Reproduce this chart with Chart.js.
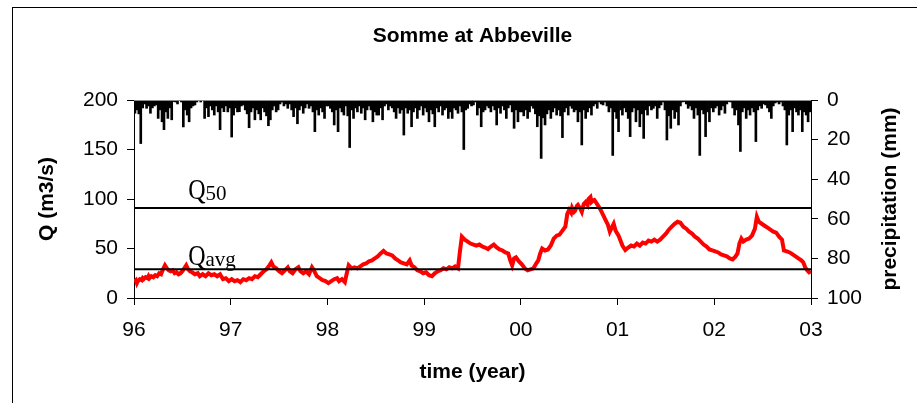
<!DOCTYPE html>
<html>
<head>
<meta charset="utf-8">
<script src="https://cdn.jsdelivr.net/npm/chart.js@4.4.1/dist/chart.umd.min.js"></script>
<style>
  html, body { margin: 0; padding: 0; background: #fff; }
  #wrap { position: relative; width: 917px; height: 403px; overflow: hidden; }
  #frame { position: absolute; left: 12px; top: 7px; width: 1000px; height: 500px; border: 1px solid #000; }
  canvas { position: absolute; left: 0; top: 0; }
</style>
</head>
<body>
<div id="wrap">
  <div id="frame"></div>
  <canvas id="chart" width="917" height="403"></canvas>
</div>
<script>
// discharge (decimal year, 96 = 1996)
let flowYears = [
  96.00, 96.02, 96.03, 96.04, 96.06, 96.08, 96.09, 96.10, 96.12, 96.14, 96.15, 96.16, 96.18, 96.20, 96.22, 96.24, 96.26, 96.28, 96.30, 96.32, 96.34, 96.36, 96.38, 96.40, 96.42, 96.44, 96.46, 96.48, 96.50, 96.52, 96.54, 96.56, 96.58, 96.60, 96.63, 96.66, 96.68, 96.71, 96.74, 96.77, 96.80, 96.83, 96.86, 96.89, 96.92, 96.95, 96.98,
  97.01, 97.04, 97.07, 97.10, 97.13, 97.16, 97.19, 97.22, 97.25, 97.28, 97.31, 97.34, 97.37, 97.40, 97.42, 97.44, 97.47, 97.50, 97.53, 97.56, 97.59, 97.61, 97.64, 97.67, 97.70, 97.72, 97.75, 97.78, 97.81, 97.84, 97.86, 97.89, 97.92, 97.95, 97.98,
  98.01, 98.04, 98.07, 98.10, 98.12, 98.15, 98.18, 98.20, 98.22, 98.25, 98.28, 98.31, 98.34, 98.37, 98.40, 98.43, 98.46, 98.49, 98.52, 98.55, 98.58, 98.61, 98.64, 98.67, 98.70, 98.73, 98.76, 98.79, 98.82, 98.85, 98.87, 98.90, 98.93, 98.96, 98.99,
  99.02, 99.05, 99.08, 99.11, 99.14, 99.17, 99.20, 99.23, 99.26, 99.29, 99.32, 99.35, 99.37, 99.39, 99.42, 99.45, 99.48, 99.51, 99.54, 99.57, 99.60, 99.63, 99.66, 99.69, 99.72, 99.75, 99.78, 99.81, 99.84, 99.87, 99.89, 99.91, 99.93, 99.95, 99.98,
  100.01, 100.04, 100.07, 100.10, 100.13, 100.16, 100.18, 100.20, 100.22, 100.25, 100.28, 100.31, 100.34, 100.37, 100.40, 100.43, 100.46, 100.48, 100.50, 100.52, 100.53, 100.55, 100.56, 100.58, 100.59, 100.61, 100.63, 100.65, 100.67, 100.69, 100.70, 100.72, 100.73, 100.74, 100.76, 100.78, 100.80, 100.82, 100.84, 100.86, 100.88, 100.90, 100.92, 100.94, 100.96, 100.98,
  101.01, 101.03, 101.05, 101.08, 101.11, 101.14, 101.17, 101.20, 101.23, 101.26, 101.29, 101.32, 101.35, 101.38, 101.41, 101.44, 101.47, 101.50, 101.53, 101.56, 101.59, 101.62, 101.65, 101.68, 101.71, 101.74, 101.77, 101.80, 101.83, 101.86, 101.89, 101.92, 101.95, 101.98,
  102.01, 102.04, 102.07, 102.10, 102.13, 102.16, 102.19, 102.22, 102.24, 102.26, 102.28, 102.30, 102.33, 102.36, 102.39, 102.42, 102.44, 102.46, 102.49, 102.52, 102.55, 102.58, 102.61, 102.64, 102.67, 102.70, 102.72, 102.75, 102.78, 102.81, 102.84, 102.87, 102.90, 102.92, 102.94, 102.96, 102.98, 103.00
];
let flowValues = [
  16, 18, 15, 17, 19, 18, 20, 19, 21, 20, 22, 20, 22, 21, 23, 22, 25, 24, 29, 33, 30, 28, 27, 28, 25, 26, 24, 25, 27, 30, 33, 29, 27, 26, 24, 25, 22, 24, 22, 25, 23, 24, 22, 24, 19, 20, 17,
  19, 17, 18, 16, 19, 18, 20, 19, 22, 21, 24, 27, 29, 33, 36, 32, 30, 27, 25, 28, 31, 27, 25, 29, 31, 27, 25, 27, 24, 31, 28, 22, 20, 18, 17,
  15, 17, 19, 20, 17, 19, 16, 25, 33, 30, 31, 30, 32, 34, 35, 37, 38, 40, 42, 45, 47.5, 45, 44, 43, 40, 38, 36, 35, 34, 38, 33, 31, 28, 27, 25,
  26, 23, 22, 25, 27, 28, 30, 29, 31, 30, 32, 30, 47, 62, 59, 57, 55, 54, 53, 54, 52, 51, 49.5, 52, 54, 51, 49, 48, 46, 45, 38, 33, 40, 41, 37,
  34, 30, 28, 29, 30, 35, 38, 45, 50, 48, 49, 53, 60, 63, 64, 68, 72, 85, 89, 86, 91, 87, 88, 93, 94, 91, 87, 95, 97, 94, 100, 102, 97, 98, 99, 96, 93, 90, 86, 82, 78, 74, 67, 71, 75, 68,
  63, 58, 53, 48.5, 51, 53, 52, 55, 53, 56, 55, 58, 57, 59, 57, 59, 62, 65, 69, 72, 75, 77, 76, 72, 70, 67, 65, 62, 60, 57, 54, 52, 49, 48,
  47, 46, 44, 43, 42, 40, 39, 42, 45, 55, 60, 57, 59, 60, 63, 70, 82, 77, 75, 73, 71, 69, 67, 66, 62, 59, 48, 47, 46, 44, 42, 40, 38, 36, 31, 28, 26, 27
];

let q50 = 91;
let qAvg = 29;

// precipitation (mm), one bar every 0.02 year from the start of 96
let rainStart = 96;
let rainStep = 0.02;
let rainValues = [
  6.7, 5, 7, 22, 4, 2, 4.2, 3, 6.7, 4, 3, 2.5, 9.3, 5, 11, 15, 6, 9.3, 4, 10, 0.8, 1, 2, 0, 1,
  13.6, 5, 7.6, 11, 4, 3, 2.5, 1, 0, 1, 0, 9.3, 4, 8.4, 3, 5, 7.6, 3, 6, 15, 4, 5.9, 3, 6, 4,
  18.7, 7.6, 4, 6, 5.9, 3, 2.5, 5, 7, 14, 6, 4, 10, 5, 7, 10, 4, 6, 8, 13, 10, 5, 3, 6, 5,
  2, 1, 3, 2, 4.2, 2, 5, 8.4, 4, 12, 5, 3, 6.7, 4, 2, 4.2, 3, 6, 16, 5, 7.6, 4, 6, 9.3, 3,
  3, 4.2, 6, 12.6, 5, 16, 4, 6, 7.6, 3, 8, 24, 5, 9.3, 4, 6, 3, 6.7, 4, 10, 5, 3, 5, 11, 6,
  7.6, 7.6, 4, 10, 3, 2, 5, 3, 4, 6, 9.3, 4, 6.7, 5, 17.7, 4, 6.7, 5, 13.5, 6, 4, 9.3, 5, 3, 7.6,
  4, 6, 11, 5, 7, 13.5, 4, 6, 3, 7.6, 5, 4, 9.3, 6, 9.3, 4, 5, 6.7, 3, 6, 25, 5, 4.2, 2, 3,
  2.5, 1, 7.6, 4, 13.5, 6, 5, 3, 4, 6, 3, 5, 12.6, 4, 6.7, 3, 5, 9.3, 4, 2.5, 6, 14.3, 5, 11, 6,
  6, 8, 5, 9.3, 6, 3, 4.2, 7, 13.5, 8, 29.5, 9, 12.6, 7, 5, 9.3, 6, 4, 7.6, 5, 8, 19, 6, 4, 7.6,
  3, 4.2, 6, 5, 11, 6, 22.7, 5, 9.3, 6, 4, 7.6, 3, 2, 4.2, 1, 2, 2.5, 1, 3, 6, 4, 28, 6, 9.3,
  16, 5, 7.6, 4, 6, 9.3, 18.5, 6, 4, 11, 5, 13.5, 7, 19.4, 5, 7.6, 3, 5, 4.2, 3, 9.3, 4, 2.5, 1, 5,
  20.2, 8, 14.3, 5, 9.3, 6, 12.6, 3, 1, 0.8, 2, 4.2, 3, 5, 9.3, 4, 7.6, 28, 5, 7, 18.5, 6, 11, 4, 6,
  4, 3, 7.6, 5, 3, 6.7, 2, 0.8, 1, 4, 7.6, 5, 12.6, 26, 6, 4, 9.3, 5, 7.6, 4, 6, 21, 5, 3, 4.2,
  2, 2.5, 4, 6, 9.3, 3, 1.5, 1, 2, 1, 3, 5, 22.7, 7.6, 5, 16, 4, 6, 7.6, 5, 16, 6, 7.6, 11, 6
];

let yearTicks = [96, 97, 98, 99, 100, 101, 102, 103];

let flowData = flowYears.map((x, i) => ({ x: x, y: flowValues[i] }));
let rainData = rainValues.map((v, i) => ({ x: rainStart + (i + 0.5) * rainStep, y: v }));

let font = '"Liberation Sans", Arial, sans-serif';
let serif = '"Liberation Serif", "Times New Roman", serif';

// Q50 / Qavg labels, title and right axis title
let extras = {
  id: 'extras',
  afterDraw(chart) {
    let ctx = chart.ctx;
    let a = chart.chartArea;
    let sx = chart.scales.x;
    let sy = chart.scales.y;
    ctx.save();

    ctx.strokeStyle = '#8c8c8c';
    ctx.lineWidth = 1;
    ctx.beginPath();
    ctx.moveTo(a.left, a.top + 0.5);
    ctx.lineTo(a.right, a.top + 0.5);
    ctx.stroke();

    ctx.fillStyle = '#000';
    ctx.font = 'bold 21px ' + font;
    ctx.textAlign = 'center';
    ctx.textBaseline = 'middle';
    ctx.fillText('Somme at Abbeville', (a.left + a.right) / 2, 36);

    ctx.save();
    ctx.translate(890, (a.top + a.bottom) / 2);
    ctx.rotate(-Math.PI / 2);
    ctx.fillText('precipitation (mm)', 0, 0);
    ctx.restore();

    function qLabel(value, sub, lift) {
      let x = sx.getPixelForValue(96.56);
      let y = sy.getPixelForValue(value) - lift;
      ctx.textAlign = 'left';
      ctx.textBaseline = 'alphabetic';
      ctx.save();
      ctx.translate(x, y);
      ctx.scale(0.8, 1);
      ctx.font = '30px ' + serif;
      ctx.fillText('Q', 0, 0);
      let w = ctx.measureText('Q').width * 0.8;
      ctx.restore();
      ctx.font = '21px ' + serif;
      ctx.fillText(sub, x + w, y + 1);
    }
    qLabel(q50, '50', 9);
    qLabel(qAvg, 'avg', 4);

    ctx.restore();
  }
};

let ctx = document.getElementById('chart').getContext('2d');
let chart = new Chart(ctx, {
  data: {
    datasets: [
      {
        type: 'line',
        label: 'Q50',
        data: [{ x: 96, y: q50 }, { x: 103, y: q50 }],
        borderColor: '#000',
        borderWidth: 2,
        pointRadius: 0,
        yAxisID: 'y',
        order: 0
      },
      {
        type: 'line',
        label: 'Qavg',
        data: [{ x: 96, y: qAvg }, { x: 103, y: qAvg }],
        borderColor: '#000',
        borderWidth: 2,
        pointRadius: 0,
        yAxisID: 'y',
        order: 0
      },
      {
        type: 'line',
        label: 'Q',
        data: flowData,
        borderColor: '#ff0000',
        borderWidth: 4,
        pointRadius: 0,
        tension: 0,
        yAxisID: 'y',
        order: 1
      },
      {
        type: 'bar',
        label: 'precipitation',
        data: rainData,
        backgroundColor: '#000',
        barThickness: 2,
        yAxisID: 'y2',
        order: 2
      }
    ]
  },
  options: {
    responsive: false,
    animation: false,
    layout: { padding: { top: 100, left: 0, right: 0, bottom: 0 } },
    plugins: {
      legend: { display: false },
      tooltip: { enabled: false },
      title: { display: false }
    },
    scales: {
      x: {
        type: 'linear',
        min: 96,
        max: 103,
        offset: false,
        afterBuildTicks: s => { s.ticks = yearTicks.map(v => ({ value: v })); },
        afterFit: s => { s.height = 105; },
        ticks: {
          color: '#000',
          font: { family: font, size: 21 },
          padding: 13,
          maxRotation: 0,
          callback: v => String(v % 100).padStart(2, '0')
        },
        grid: { drawOnChartArea: false, offset: false, tickLength: 7, color: '#000' },
        border: { color: '#000', width: 1 },
        title: {
          display: true,
          text: 'time (year)',
          color: '#000',
          font: { family: font, size: 21, weight: 'bold' },
          padding: { top: 0, bottom: 18 }
        }
      },
      y: {
        position: 'left',
        min: 0,
        max: 200,
        afterFit: s => { s.width = 134; },
        ticks: {
          stepSize: 50,
          color: '#000',
          font: { family: font, size: 21 },
          padding: 9
        },
        grid: { drawOnChartArea: false, tickLength: 7, color: '#000' },
        border: { color: '#000', width: 1 },
        title: {
          display: true,
          text: 'Q (m3/s)',
          color: '#000',
          font: { family: font, size: 21, weight: 'bold' },
          padding: { top: 35, bottom: 0 }
        }
      },
      y2: {
        position: 'right',
        min: 0,
        max: 100,
        reverse: true,
        afterFit: s => { s.width = 106; },
        ticks: {
          stepSize: 20,
          color: '#000',
          font: { family: font, size: 21 },
          padding: 9
        },
        grid: { drawOnChartArea: false, tickLength: 7, color: '#000' },
        border: { color: '#000', width: 1 }
      }
    }
  },
  plugins: [extras]
});
</script>
</body>
</html>
